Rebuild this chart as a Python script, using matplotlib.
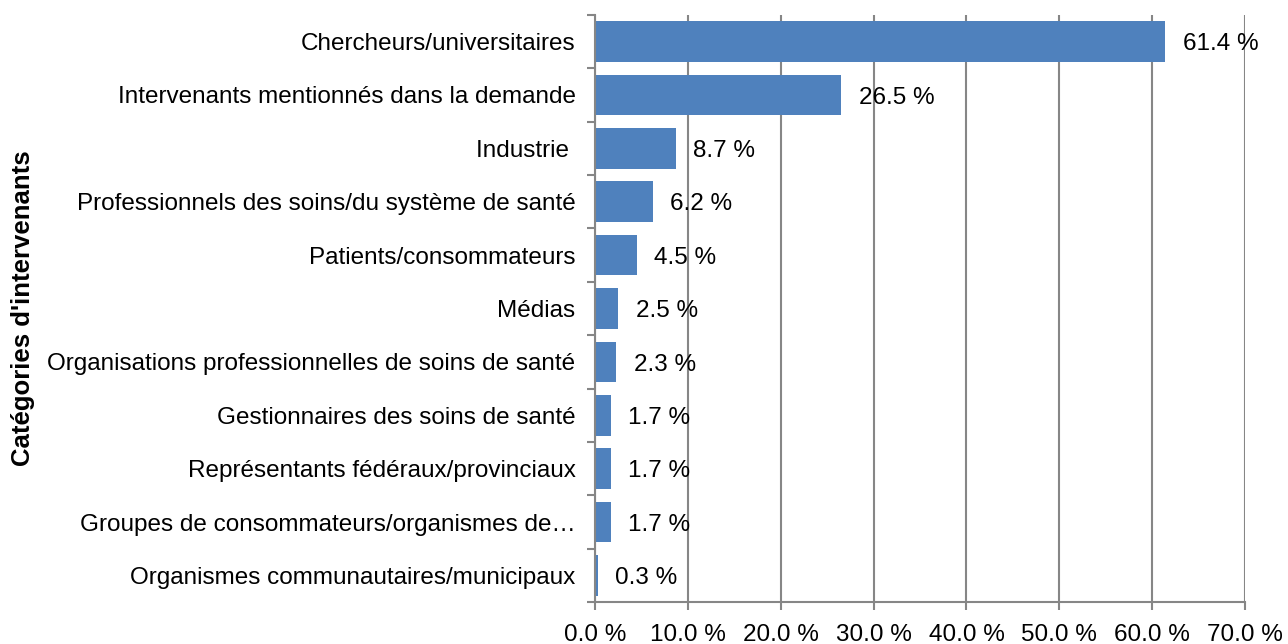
import numpy as np
import matplotlib.pyplot as plt
from matplotlib.ticker import FixedLocator

plt.rcParams['font.family'] = ['Liberation Sans', 'DejaVu Sans']

categories = [
    "Chercheurs/universitaires",
    "Intervenants mentionnés dans la demande",
    "Industrie ",
    "Professionnels des soins/du système de santé",
    "Patients/consommateurs",
    "Médias",
    "Organisations professionnelles de soins de santé",
    "Gestionnaires des soins de santé",
    "Représentants fédéraux/provinciaux",
    "Groupes de consommateurs/organismes de…",
    "Organismes communautaires/municipaux",
]
values = [61.4, 26.5, 8.7, 6.2, 4.5, 2.5, 2.3, 1.7, 1.7, 1.7, 0.3]
xticks = [0, 10, 20, 30, 40, 50, 60, 70]

grid_c = '#868686'
fs = 17.5

fig = plt.figure(figsize=(12.88, 6.44), dpi=100)
ax = fig.add_axes([0.462, 0.065, 0.5046, 0.912])

y = np.arange(len(categories))
ax.barh(y, values, height=0.76, color='#4F81BD', zorder=2)
ax.set_ylim(len(categories) - 0.5, -0.5)
ax.set_xlim(0, 70)

for yi, v in zip(y, values):
    ax.text(v + 1.9, yi + 0.05, f"{v:.1f} %", va='center', ha='left', fontsize=fs, zorder=3)

ax.set_yticks(y)
ax.set_yticklabels(categories, fontsize=fs)
ax.yaxis.set_minor_locator(FixedLocator(np.arange(-0.5, len(categories), 1)))
ax.tick_params(axis='y', which='major', length=0, pad=14)
ax.tick_params(axis='y', which='minor', length=6, width=1.5, color=grid_c)

ax.set_xticks(xticks)
ax.set_xticklabels([f"{t:.1f} %" for t in xticks], fontsize=fs)
ax.tick_params(axis='x', length=6, width=1.5, color=grid_c, pad=10)
ax.xaxis.grid(True, color=grid_c, linewidth=1.5, zorder=0)
ax.set_axisbelow(True)

for s in ['top', 'right']:
    ax.spines[s].set_visible(False)
for s in ['left', 'bottom']:
    ax.spines[s].set_color(grid_c)
    ax.spines[s].set_linewidth(1.5)

ax.set_ylabel("Catégories d'intervenants", fontsize=18.5, fontweight='bold')
ax.yaxis.set_label_coords(-0.862, 0.5)

fig.savefig('out.png', dpi=100)
